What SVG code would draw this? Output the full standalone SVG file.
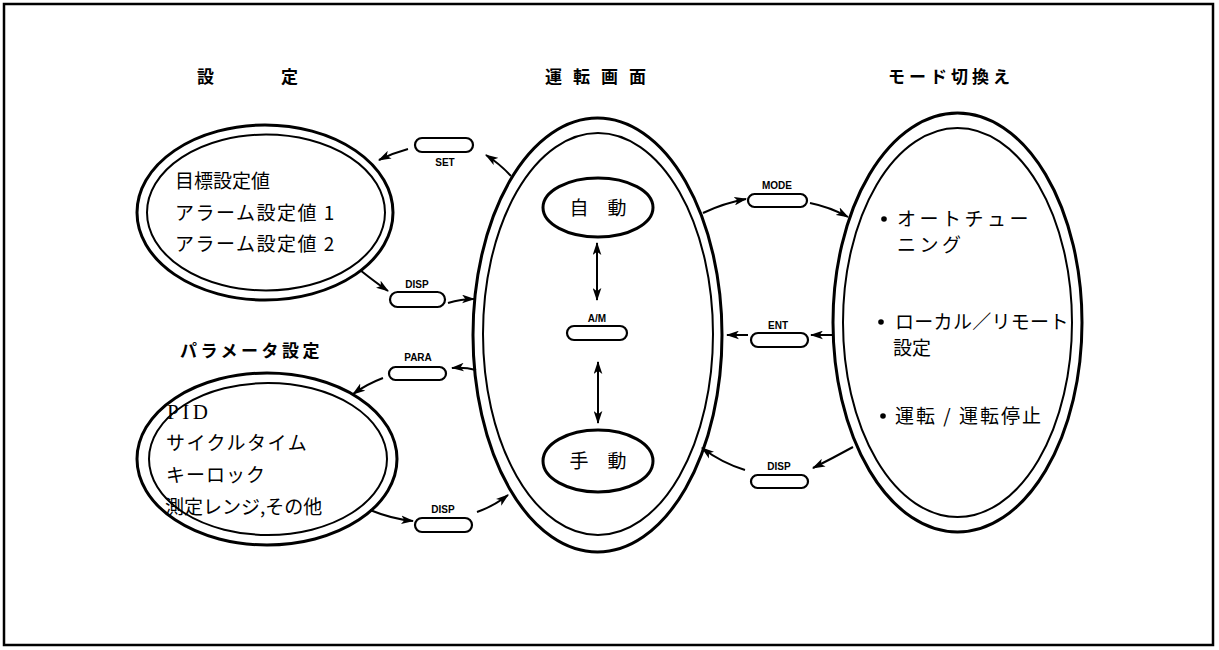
<svg xmlns="http://www.w3.org/2000/svg" width="1219" height="650" viewBox="0 0 1219 650">
<defs>
<style>
.frame{fill:none;stroke:#000;stroke-width:2.5}
.ell{fill:none;stroke:#000;stroke-width:3}
.ein{fill:none;stroke:#000;stroke-width:2}
.btn{fill:#fff;stroke:#000;stroke-width:2.2}
.con{fill:none;stroke:#000;stroke-width:2;marker-end:url(#ah)}
.dbl{fill:none;stroke:#000;stroke-width:2;marker-end:url(#ah);marker-start:url(#ah)}
.hd{font-family:"Noto Sans CJK JP","Liberation Sans",sans-serif;font-weight:bold;font-size:17px;fill:#000}
.jp{font-family:"Noto Sans CJK JP",sans-serif;font-size:19px;fill:#000}
.lbl{font-family:"Liberation Sans",Arial,sans-serif;font-weight:bold;font-size:10px;fill:#000;text-anchor:middle}
.dot{fill:#000}
</style>
<marker id="ah" viewBox="0 0 12 8" refX="11" refY="4" markerWidth="13" markerHeight="9" markerUnits="userSpaceOnUse" orient="auto-start-reverse">
<path d="M0,0 L12,4 L0,8 L3,4 z" fill="#000"/>
</marker>
</defs>
<rect width="1219" height="650" fill="#fff"/>
<rect class="frame" x="4" y="4" width="1209" height="641"/>

<g id="headers">
<text class="hd" x="197" y="83">設</text>
<text class="hd" x="281" y="83">定</text>
<text class="hd" x="545" y="83" letter-spacing="11">運転画面</text>
<text class="hd" x="888" y="83" letter-spacing="4">モード切換え</text>
<text class="hd" x="180" y="357" letter-spacing="3.5">パラメータ設定</text>
</g>

<g id="settings">
<ellipse class="ell" cx="265" cy="212.5" rx="128" ry="87.5"/>
<ellipse class="ein" cx="266" cy="212.5" rx="119" ry="78"/>
<text class="jp" x="175" y="188" font-size="20">目標設定値</text>
<text class="jp" x="175" y="220" font-size="19" letter-spacing="1.5">アラーム設定値 1</text>
<text class="jp" x="175" y="251" font-size="19" letter-spacing="1.5">アラーム設定値 2</text>
</g>

<g id="parameters">
<ellipse class="ell" cx="267" cy="459" rx="130" ry="86"/>
<ellipse class="ein" cx="268" cy="459" rx="119" ry="76"/>
<text x="167" y="419" font-family="'Liberation Serif',serif" font-size="21" letter-spacing="3.5">PID</text>
<text class="jp" x="166" y="450" letter-spacing="1.5">サイクルタイム</text>
<text class="jp" x="166" y="482" letter-spacing="1">キーロック</text>
<text class="jp" x="165" y="514">測定レンジ,その他</text>
</g>

<g id="operation">
<ellipse class="ell" cx="597.5" cy="335" rx="124.5" ry="217"/>
<ellipse class="ein" cx="598" cy="334" rx="115" ry="201"/>
</g>
<g id="auto">
<ellipse class="ell" cx="598" cy="207.5" rx="55" ry="29.5"/>
<text class="jp" x="598" y="215" font-size="20" text-anchor="middle">自　動</text>
</g>
<g id="manual">
<ellipse class="ell" cx="598" cy="461" rx="55" ry="31"/>
<text class="jp" x="598" y="468" font-size="20" text-anchor="middle">手　動</text>
</g>

<g id="mode">
<ellipse class="ell" cx="957.5" cy="322.5" rx="124.5" ry="209.5"/>
<ellipse class="ein" cx="957.5" cy="322.5" rx="114.5" ry="194.5"/>
<circle class="dot" cx="884" cy="219" r="2.8"/>
<text class="jp" x="897" y="226" font-size="17" letter-spacing="3.5">オートチュー</text>
<text class="jp" x="897" y="252" font-size="17" letter-spacing="3.5">ニング</text>
<circle class="dot" cx="881" cy="322" r="2.8"/>
<text class="jp" x="895" y="329" font-size="17" letter-spacing="0.3">ローカル／リモート</text>
<text class="jp" x="893" y="355" font-size="17">設定</text>
<circle class="dot" cx="883" cy="416" r="2.8"/>
<text class="jp" x="895" y="423" font-size="18" letter-spacing="2">運転 / 運転停止</text>
</g>

<g id="btn-set"><rect class="btn" x="415" y="138" width="58" height="14" rx="7"/><text class="lbl" x="445" y="166">SET</text></g>
<g id="btn-disp1"><rect class="btn" x="390" y="292" width="55" height="15" rx="7.5"/><text class="lbl" x="417" y="288">DISP</text></g>
<g id="btn-para"><rect class="btn" x="389" y="367" width="57" height="13" rx="6.5"/><text class="lbl" x="418" y="361">PARA</text></g>
<g id="btn-disp2"><rect class="btn" x="415" y="518" width="57" height="14" rx="7"/><text class="lbl" x="443" y="513">DISP</text></g>
<g id="btn-am"><rect class="btn" x="567" y="326" width="60" height="14" rx="7"/><text class="lbl" x="597" y="322">A/M</text></g>
<g id="btn-mode"><rect class="btn" x="748" y="194" width="59" height="13" rx="6.5"/><text class="lbl" x="777" y="189">MODE</text></g>
<g id="btn-ent"><rect class="btn" x="751" y="333" width="57" height="14" rx="7"/><text class="lbl" x="778" y="329">ENT</text></g>
<g id="btn-disp3"><rect class="btn" x="751" y="475" width="57" height="13" rx="6.5"/><text class="lbl" x="779" y="470">DISP</text></g>

<g id="connectors">
<path class="con" d="M511,176 Q500,164 486,155"/>
<path class="con" d="M408,149 Q393,153 379,160"/>
<path class="con" d="M360,270 Q375,282 388,291"/>
<path class="con" d="M448,303 Q461,299 474,299"/>
<path class="con" d="M476,370 Q465,367 452,368"/>
<path class="con" d="M383,378 Q367,384 353,394"/>
<path class="con" d="M370,510 Q392,519 413,521"/>
<path class="con" d="M477,512 Q494,506 508,495"/>
<path class="dbl" d="M597,243 L597,300"/>
<path class="dbl" d="M598,362 L598,423"/>
<path class="con" d="M703,213 Q724,203 746,199"/>
<path class="con" d="M810,203 Q830,207 848,217"/>
<path class="con" d="M832,335 L811,335"/>
<path class="con" d="M748,335 L727,335"/>
<path class="con" d="M853,447 Q833,458 813,468"/>
<path class="con" d="M745,470 Q722,463 702,448"/>
</g>
</svg>
